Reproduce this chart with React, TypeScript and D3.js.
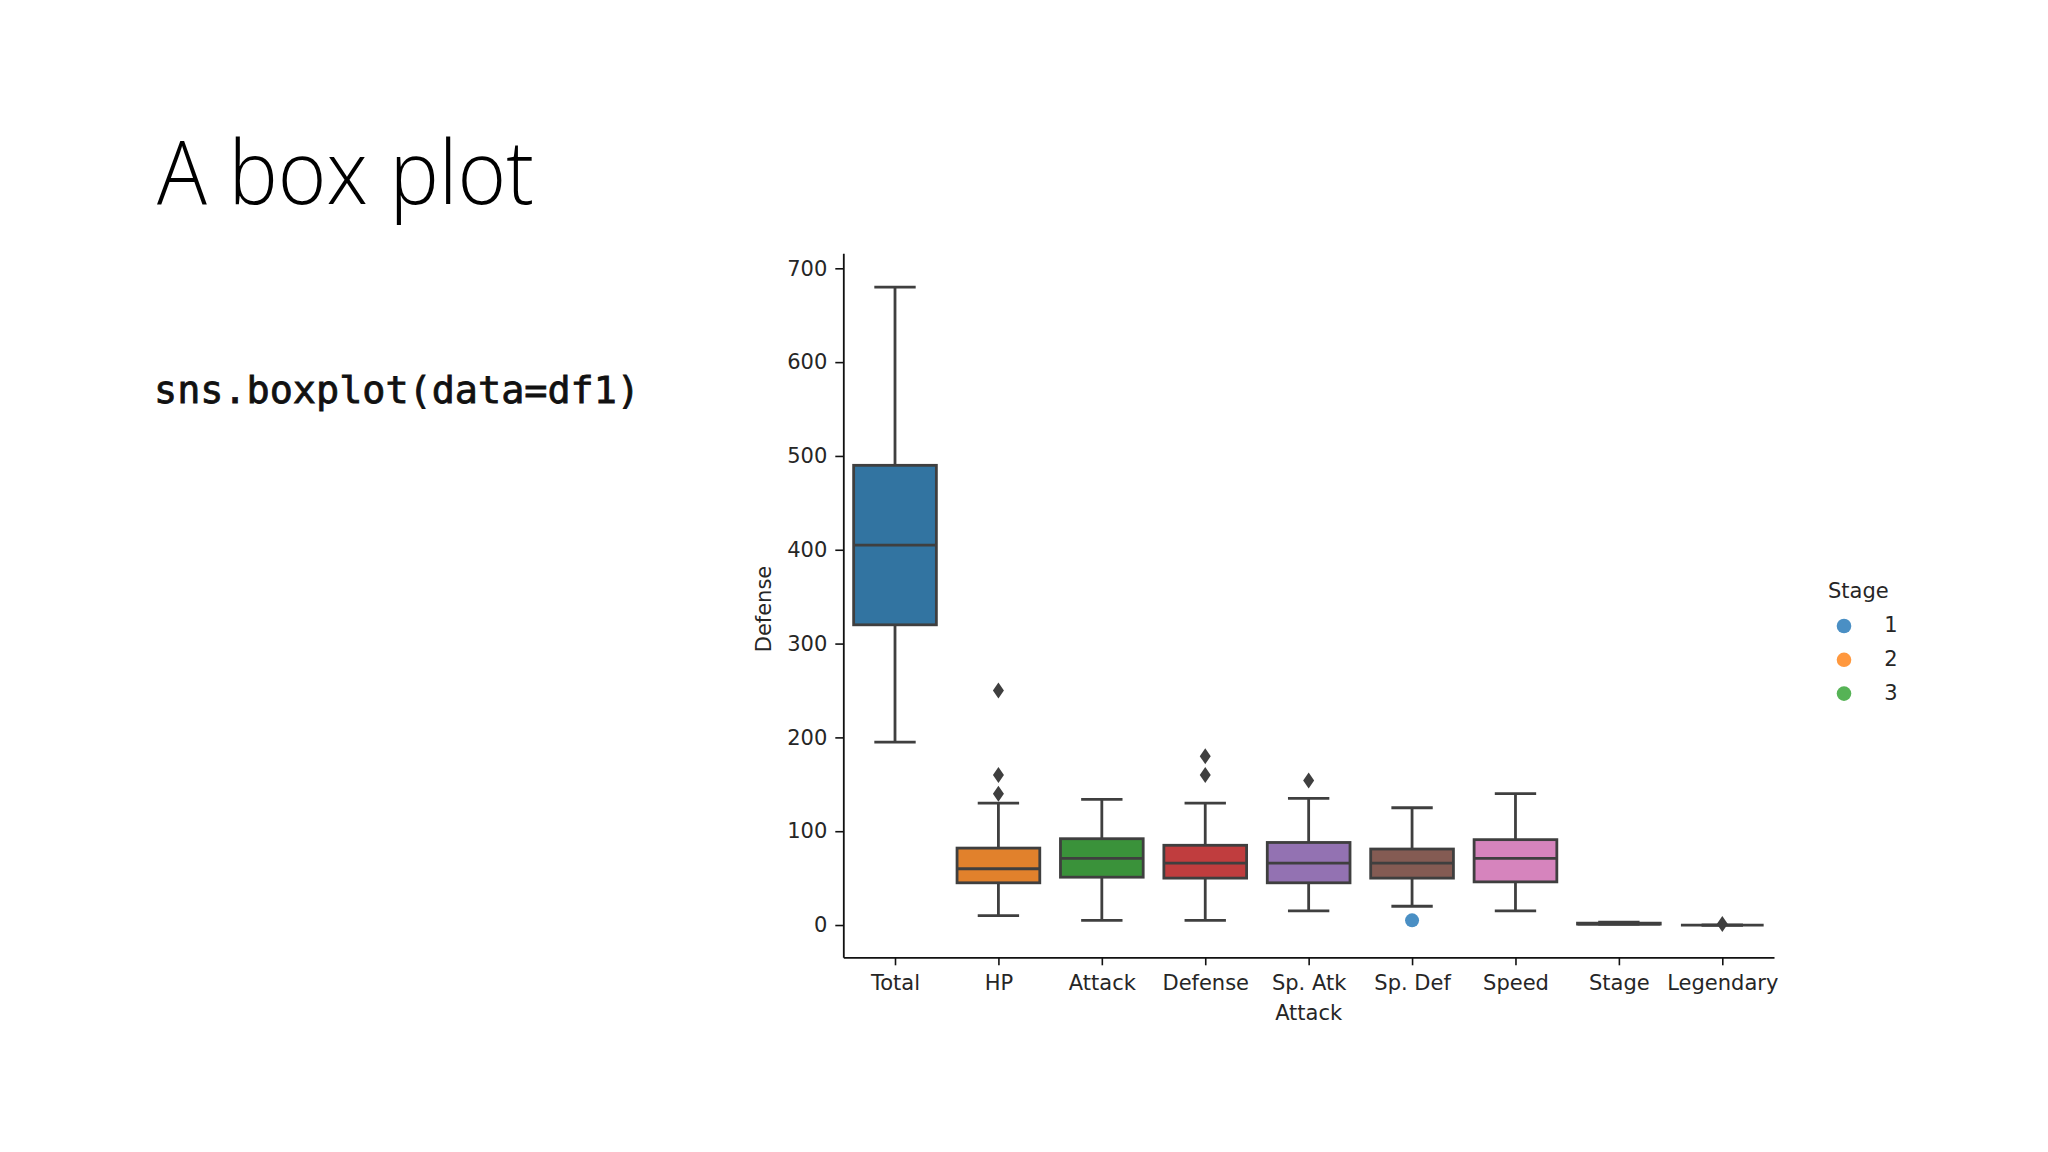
import React, { useEffect, useRef } from 'react';
import * as d3 from 'd3';

const categories = ["Total", "HP", "Attack", "Defense", "Sp. Atk", "Sp. Def", "Speed", "Stage", "Legendary"];
const q1 = [320, 45, 51, 50, 45, 50, 46, 1, 0];
const medians = [405, 60, 71, 66, 66, 66, 71, 1, 0];
const q3 = [490, 82, 92, 85, 88, 81, 91, 2, 0];
const whiskerLow = [195, 10, 5, 5, 15, 20, 15, 1, 0];
const whiskerHigh = [680, 130, 134, 130, 135, 125, 140, 3, 0];
const outliers = [[], [250, 160, 140], [], [180, 160], [154], [], [], [], [1]];
const boxColors = ["#3274a1", "#e1812c", "#3a923a", "#c03d3e", "#9372b2", "#845b53", "#d684bd", "#7f7f7f", "#a9aa35"];

// leftover scatter point (Attack vs Defense, hue = Stage) drawn on the same axes
const scatterAttack = [5];
const scatterDefense = [5];
const scatterStage = [1];

const stages = ["1", "2", "3"];
const stageColors = ["#4a8fc4", "#ff983e", "#56b356"];

const yTicks = [0, 100, 200, 300, 400, 500, 600, 700];

const App: React.FC = () => {
  const svgRef = useRef<SVGSVGElement>(null);

  useEffect(() => {
    if (!svgRef.current) return;
    const svg = d3.select(svgRef.current);
    svg.selectAll("*").remove();

    const font = "DejaVu Sans";
    const ink = "#262626";
    const lineColor = "#3f3f3f";

    const x = d3.scaleLinear().domain([-0.5, categories.length - 0.5]).range([843.3, 1774]);
    const y = d3.scaleLinear().domain([-34.4, 716]).range([957.3, 253.3]);
    const step = x(1) - x(0);
    const boxW = step * 0.8;
    const capW = boxW * 0.5;

    // slide text
    svg.append("text")
      .attr("x", 157).attr("y", 204)
      .attr("font-family", "Open Sans, Lato, sans-serif")
      .attr("font-weight", 300)
      .attr("font-size", 88)
      .attr("textLength", 377)
      .attr("lengthAdjust", "spacingAndGlyphs")
      .attr("fill", "#000")
      .text("A box plot");

    svg.append("text")
      .attr("x", 154).attr("y", 403)
      .attr("font-family", "DejaVu Sans Mono, monospace")
      .attr("font-size", 38)
      .attr("textLength", 486)
      .attr("lengthAdjust", "spacingAndGlyphs")
      .attr("fill", "#111")
      .attr("stroke", "#111")
      .attr("stroke-width", 0.8)
      .text("sns.boxplot(data=df1)");

    // axes
    const yAxis = svg.append("g")
      .attr("transform", `translate(${x.range()[0]},0)`)
      .call(d3.axisLeft(y).tickValues(yTicks).tickSize(8).tickSizeOuter(0).tickPadding(8));
    const xAxis = svg.append("g")
      .attr("transform", `translate(0,${y.range()[0]})`)
      .call(d3.axisBottom(x).tickValues(d3.range(categories.length)).tickFormat((d) => categories[d as number]).tickSize(8).tickSizeOuter(0).tickPadding(10));

    [yAxis, xAxis].forEach((g) => {
      g.select(".domain").attr("stroke", "#111").attr("stroke-width", 1.8);
      g.selectAll(".tick line").attr("stroke", "#111").attr("stroke-width", 1.6);
      g.selectAll(".tick text")
        .attr("font-family", font)
        .attr("font-size", 21)
        .attr("fill", ink);
    });

    svg.append("text")
      .attr("transform", `translate(771,609) rotate(-90)`)
      .attr("text-anchor", "middle")
      .attr("font-family", font)
      .attr("font-size", 21)
      .attr("fill", ink)
      .text("Defense");

    svg.append("text")
      .attr("x", x(4)).attr("y", 1020)
      .attr("text-anchor", "middle")
      .attr("font-family", font)
      .attr("font-size", 21)
      .attr("fill", ink)
      .text("Attack");

    // boxes
    categories.forEach((_, i) => {
      const cx = x(i);
      const g = svg.append("g")
        .attr("stroke", lineColor)
        .attr("stroke-width", 2.8);

      g.append("line").attr("x1", cx).attr("x2", cx).attr("y1", y(q3[i])).attr("y2", y(whiskerHigh[i]));
      g.append("line").attr("x1", cx).attr("x2", cx).attr("y1", y(q1[i])).attr("y2", y(whiskerLow[i]));
      g.append("line").attr("x1", cx - capW / 2).attr("x2", cx + capW / 2).attr("y1", y(whiskerHigh[i])).attr("y2", y(whiskerHigh[i]));
      g.append("line").attr("x1", cx - capW / 2).attr("x2", cx + capW / 2).attr("y1", y(whiskerLow[i])).attr("y2", y(whiskerLow[i]));

      g.append("rect")
        .attr("x", cx - boxW / 2)
        .attr("width", boxW)
        .attr("y", y(q3[i]))
        .attr("height", Math.max(0, y(q1[i]) - y(q3[i])))
        .attr("fill", boxColors[i]);

      g.append("line").attr("x1", cx - boxW / 2).attr("x2", cx + boxW / 2).attr("y1", y(medians[i])).attr("y2", y(medians[i]));

      outliers[i].forEach((v) => {
        const py = y(v);
        g.append("path")
          .attr("d", `M${cx},${py - 8}L${cx + 5.5},${py}L${cx},${py + 8}L${cx - 5.5},${py}Z`)
          .attr("fill", lineColor)
          .attr("stroke", "none");
      });
    });

    // leftover scatter point
    scatterAttack.forEach((a, i) => {
      svg.append("circle")
        .attr("cx", x(a))
        .attr("cy", y(scatterDefense[i]))
        .attr("r", 7)
        .attr("fill", stageColors[scatterStage[i] - 1]);
    });

    // legend
    const legend = svg.append("g");
    legend.append("text")
      .attr("x", 1828).attr("y", 598)
      .attr("font-family", font)
      .attr("font-size", 21)
      .attr("fill", ink)
      .text("Stage");
    stages.forEach((s, i) => {
      const cy = 626 + i * 33.8;
      legend.append("circle").attr("cx", 1844).attr("cy", cy).attr("r", 7.3).attr("fill", stageColors[i]);
      legend.append("text")
        .attr("x", 1891).attr("y", cy + 6)
        .attr("text-anchor", "middle")
        .attr("font-family", font)
        .attr("font-size", 21)
        .attr("fill", ink)
        .text(s);
    });
  }, []);

  return (
    <svg
      ref={svgRef}
      width={2048}
      height={1152}
      style={{ position: 'absolute', left: 0, top: 0, background: '#fff' }}
    />
  );
};

export default App;
